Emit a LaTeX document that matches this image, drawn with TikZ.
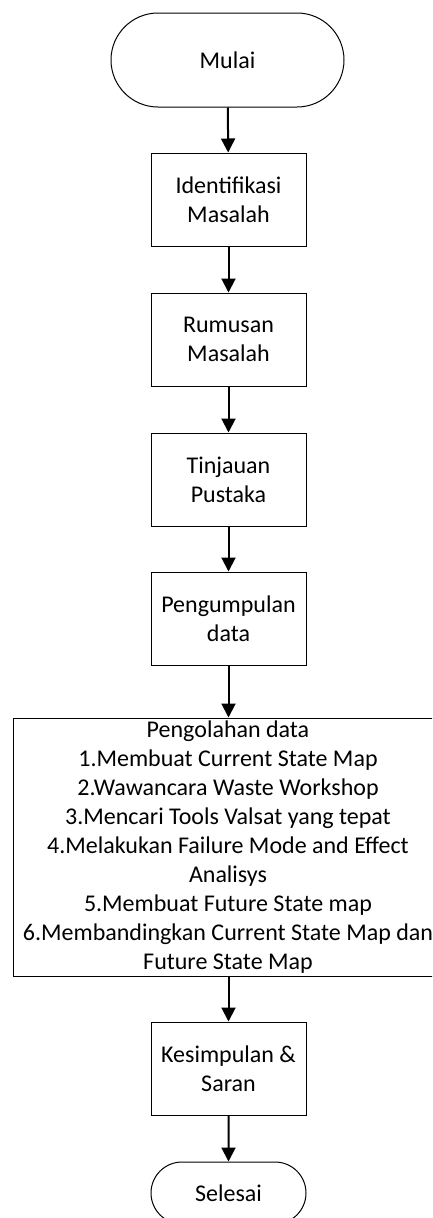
\documentclass[tikz,border=0pt]{standalone}
\usepackage{fontspec}
\setmainfont{Carlito}
\usetikzlibrary{arrows.meta,shapes.misc}
\begin{document}
\begin{tikzpicture}[x=1pt,y=-1pt,
  every node/.style={font=\fontsize{24}{29}\selectfont, align=center, inner sep=0pt},
  stepbox/.style={draw, line width=1pt, rectangle, minimum width=155pt, minimum height=93pt},
  term/.style={draw, line width=1pt, rounded rectangle},
  flow/.style={line width=2pt, -{Triangle[width=14pt,length=14pt]}}]
\useasboundingbox (0,0) rectangle (432,1218);
\begin{scope}
\clip (0,0) rectangle (432,1218);
\node[term, minimum width=233pt, minimum height=94pt] (start) at (227.5,60) {Mulai};
\node[stepbox] (b1) at (228.5,199.5) {Identifikasi\\Masalah};
\node[stepbox] (b2) at (228.5,339.5) {Rumusan\\Masalah};
\node[stepbox] (b3) at (228.5,479.5) {Tinjauan\\Pustaka};
\node[stepbox] (b4) at (228.5,618.5) {Pengumpulan\\data};
\node[draw, line width=1pt, rectangle, minimum width=430pt, minimum height=258pt] (b5) at (228,847)
  {Pengolahan data\\1.Membuat Current State Map\\2.Wawancara Waste Workshop\\3.Mencari Tools Valsat yang tepat\\4.Melakukan Failure Mode and Effect\\Analisys\\5.Membuat Future State map\\6.Membandingkan Current State Map dan\\Future State Map};
\node[stepbox] (b6) at (228.5,1068.5) {Kesimpulan \&\\Saran};
\node[term, minimum width=155pt, minimum height=62pt] (end) at (228.5,1193) {Selesai};
\draw[flow] (start) -- (b1);
\draw[flow] (b1) -- (b2);
\draw[flow] (b2) -- (b3);
\draw[flow] (b3) -- (b4);
\draw[flow] (b4.south) -- (b4.south |- b5.north);
\draw[flow] (b5.south -| b6.north) -- (b6.north);
\draw[flow] (b6) -- (end);
\end{scope}
\end{tikzpicture}
\end{document}
